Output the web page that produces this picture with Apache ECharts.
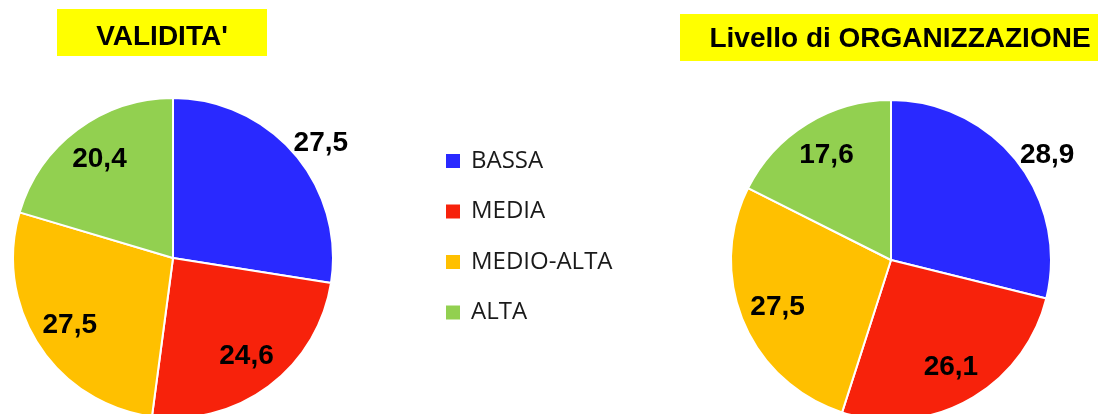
<!DOCTYPE html>
<html>
<head>
<meta charset="utf-8">
<script src="https://cdn.jsdelivr.net/npm/echarts@6/dist/echarts.min.js"></script>
<style>
html,body{margin:0;padding:0;background:#fff;}
#chart{width:1098px;height:414px;}
</style>
</head>
<body>
<div id="chart"></div>
<script>
const categories = ['BASSA', 'MEDIA', 'MEDIO-ALTA', 'ALTA'];
const validita = [27.5, 24.6, 27.5, 20.4];
const organizzazione = [28.9, 26.1, 27.5, 17.6];
const chartTitles = ["VALIDITA'", 'Livello di ORGANIZZAZIONE'];

const colors = ['#2929FF', '#F7220B', '#FFC000', '#92D050'];
const FONT = '"Liberation Sans", Arial, sans-serif';
const fmt = p => p.value.toFixed(1).replace('.', ',');

const labelStyle = {
  fontFamily: FONT, fontWeight: 'bold', fontSize: 28, color: '#000'
};

function mainSeries(values, center, outLen, outDist) {
  return {
    type: 'pie',
    center: center,
    radius: [0, 160],
    startAngle: 90,
    clockwise: true,
    avoidLabelOverlap: false,
    animation: false,
    emphasis: { scale: false },
    itemStyle: { borderColor: '#fff', borderWidth: 2 },
    data: categories.map((name, i) => {
      const item = { name: name, value: values[i], itemStyle: { color: colors[i] } };
      if (i === 0) {
        item.label = Object.assign({ show: true, position: 'outside', formatter: fmt,
          distanceToLabelLine: outDist, alignTo: 'none' }, labelStyle);
        item.labelLine = { show: false, length: outLen, length2: 0 };
      } else {
        item.label = { show: false };
        item.labelLine = { show: false };
      }
      return item;
    })
  };
}

function overlaySeries(values, center) {
  return {
    type: 'pie',
    center: center,
    radius: [0, 240],
    startAngle: 90,
    clockwise: true,
    silent: true,
    animation: false,
    avoidLabelOverlap: false,
    itemStyle: { color: 'rgba(0,0,0,0)', borderWidth: 0 },
    emphasis: { disabled: true },
    label: Object.assign({ show: true, position: 'inside', formatter: fmt }, labelStyle),
    labelLine: { show: false },
    data: categories.map((name, i) => ({
      name: name, value: values[i],
      label: { show: i !== 0 }
    }))
  };
}

const chart = echarts.init(document.getElementById('chart'), null, { renderer: 'canvas' });
chart.setOption({
  animation: false,
  legend: {
    orient: 'vertical',
    left: 444,
    top: 149,
    padding: 0,
    data: categories,
    icon: 'rect',
    itemWidth: 16,
    itemHeight: 16,
    itemGap: 26.5,
    selectedMode: false,
    textStyle: { fontFamily: '"Open Sans", sans-serif', fontSize: 24, lineHeight: 24, color: '#1a1a1a', padding: [0, 0, 0, 5] }
  },
  graphic: [
    { type: 'rect', shape: { x: 57, y: 9, width: 210, height: 47 }, style: { fill: '#FFFF00' }, silent: true },
    { type: 'text', style: { x: 162, y: 37, text: chartTitles[0], fontFamily: FONT, fontWeight: 'bold', fontSize: 28,
      fill: '#000', align: 'center', verticalAlign: 'middle' }, silent: true },
    { type: 'rect', shape: { x: 680, y: 14, width: 430, height: 47 }, style: { fill: '#FFFF00' }, silent: true },
    { type: 'text', style: { x: 900, y: 39, text: chartTitles[1], fontFamily: FONT, fontWeight: 'bold', fontSize: 28,
      fill: '#000', align: 'center', verticalAlign: 'middle' }, silent: true }
  ],
  series: [
    mainSeries(validita, [173, 258], 17, -14),
    mainSeries(organizzazione, [891, 260], 10, -5),
    overlaySeries(validita, [173, 258]),
    overlaySeries(organizzazione, [891, 260])
  ]
});
</script>
</body>
</html>
